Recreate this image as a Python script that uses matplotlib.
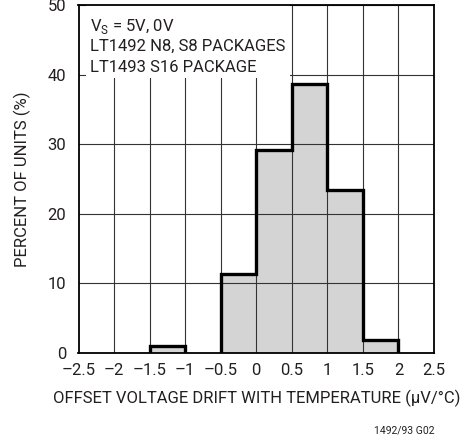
import matplotlib
matplotlib.use("Agg")
import matplotlib.pyplot as plt
from matplotlib.patches import Rectangle
import numpy as np

plt.rcParams['font.family'] = ['Roboto', 'DejaVu Sans']
plt.rcParams['mathtext.fontset'] = 'custom'
plt.rcParams['mathtext.rm'] = 'Roboto'

# Histogram data: bin edges (µV/°C) and percent of units per bin
bin_edges = [-2.5, -2.0, -1.5, -1.0, -0.5, 0.0, 0.5, 1.0, 1.5, 2.0, 2.5]
percent_units = [0.0, 0.0, 1.0, 0.0, 11.3, 29.2, 38.7, 23.4, 1.9, 0.0]

x_ticks = [-2.5, -2, -1.5, -1, -0.5, 0, 0.5, 1, 1.5, 2, 2.5]
x_tick_labels = ['–2.5', '–2', '–1.5', '–1', '–0.5', '0', '0.5', '1', '1.5', '2', '2.5']
y_ticks = [0, 10, 20, 30, 40, 50]

text_color = '#231f20'
fs = 12

fig = plt.figure(figsize=(4.66, 4.40), dpi=100)
ax = fig.add_axes([78.5 / 466, 87 / 440, (434 - 78.5) / 466, 348 / 440])

edges = np.array(bin_edges)
vals = np.array(percent_units)

# gray fill below the grid
ax.stairs(vals, edges, fill=True, color='#d4d4d4', zorder=1, linewidth=0)

# grid over the fill
ax.set_xticks(x_ticks)
ax.set_yticks(y_ticks)
ax.grid(True, color='#333333', linewidth=0.8)
ax.xaxis.set_zorder(2)
ax.yaxis.set_zorder(2)

# heavy outline for each run of non-empty bins
start = None
for i in range(len(vals) + 1):
    nonzero = i < len(vals) and vals[i] > 0
    if nonzero and start is None:
        start = i
    elif not nonzero and start is not None:
        ax.stairs(vals[start:i], edges[start:i + 1], baseline=0, fill=False,
                  color='black', linewidth=2.4, zorder=3)
        start = None

ax.set_xlim(-2.5, 2.5)
ax.set_ylim(0, 50)
ax.set_xticklabels(x_tick_labels)
ax.tick_params(length=0, labelsize=fs, colors=text_color)
ax.tick_params(axis='y', pad=9)
ax.tick_params(axis='x', pad=7)
for s in ax.spines.values():
    s.set_linewidth(1.3)
    s.set_color('black')
    s.set_zorder(4)

# white panel behind the conditions text
panel = Rectangle((-2.395, 39.5), 2.865, 10.5, facecolor='white', edgecolor='none',
                  zorder=2.5)
ax.add_patch(panel)

cond_lines = [r'V$_\mathregular{S}$ = 5V, 0V', 'LT1492 N8, S8 PACKAGES', 'LT1493 S16 PACKAGE']
y_px = [30.5, 50.7, 71.5]
for line, yp in zip(cond_lines, y_px):
    fig.text(90.5 / 466, 1 - yp / 440, line, fontsize=fs, color=text_color,
             ha='left', va='baseline', zorder=5)

ax.set_ylabel('PERCENT OF UNITS (%)', fontsize=fs, color=text_color, labelpad=12)
ax.set_xlabel('OFFSET VOLTAGE DRIFT WITH TEMPERATURE (µV/°C)', fontsize=fs,
              color=text_color, labelpad=9)

fig.text(434 / 466, 1 - 430 / 440, '1492/93 G02', fontsize=7.5, color=text_color,
         ha='right', va='center')

fig.savefig('out.png', dpi=100)
